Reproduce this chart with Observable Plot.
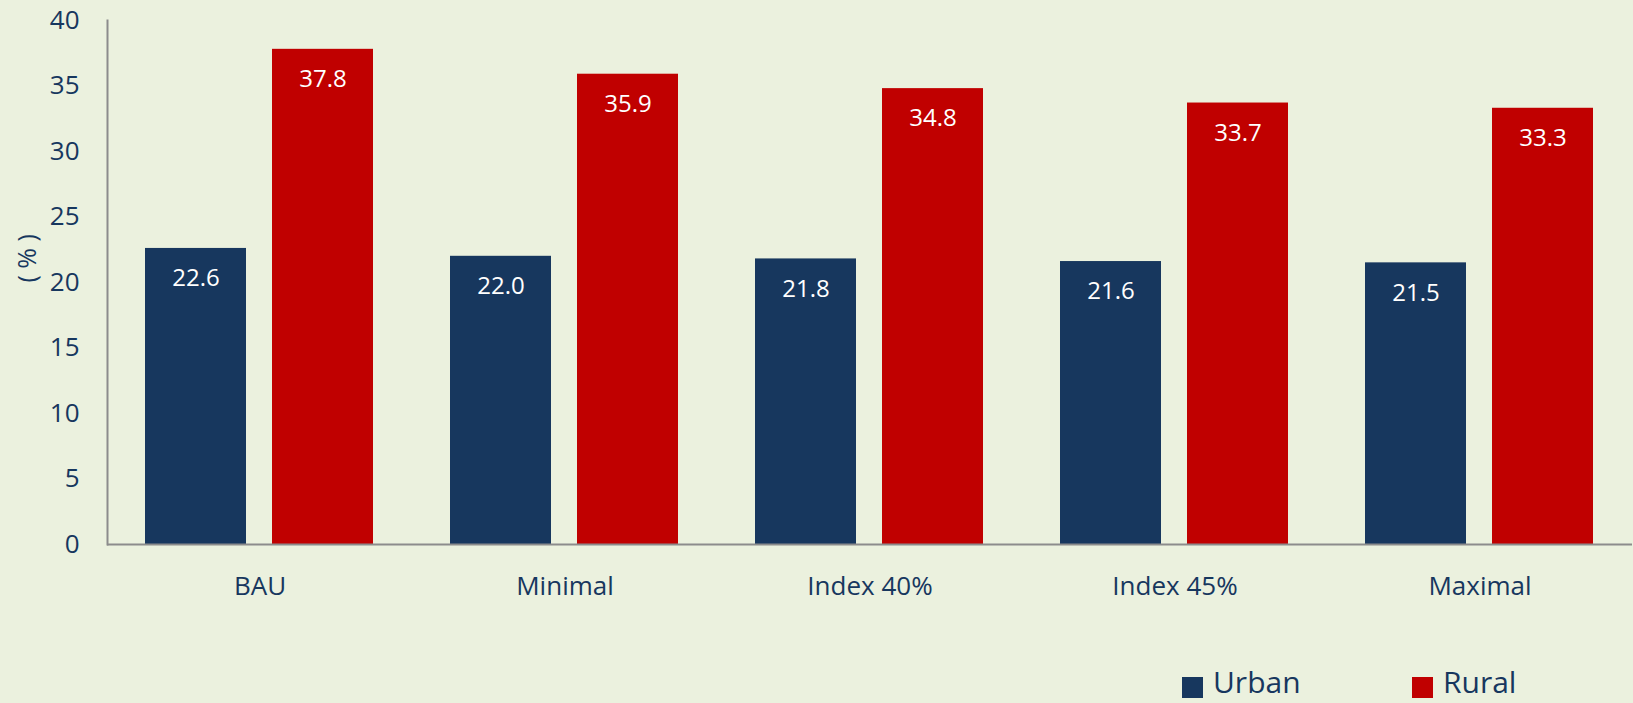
<!DOCTYPE html>
<html>
<head>
<meta charset="utf-8">
<script src="https://cdn.jsdelivr.net/npm/d3@7"></script>
<script src="https://cdn.jsdelivr.net/npm/@observablehq/plot@0.6"></script>
<style>
  html, body { margin: 0; padding: 0; background: #EBF1DE; font-family: "Open Sans", sans-serif; overflow: hidden; }
  #chart svg { display: block; }
  #legend { position: relative; height: 38px; width: 1633px; }
  .sw { position: absolute; top: 12px; width: 21px; height: 21px; }
  .lb { position: absolute; top: 2px; height: 30px; line-height: 30px; font-size: 30px; color: #17375E; white-space: nowrap; }
</style>
</head>
<body>
<div id="chart"></div>
<div id="legend"></div>
<script>
const scenarios = ["BAU", "Minimal", "Index 40%", "Index 45%", "Maximal"];
const series = ["Urban", "Rural"];
const urban = [22.6, 22.0, 21.8, 21.6, 21.5];
const rural = [37.8, 35.9, 34.8, 33.7, 33.3];
const colors = ["#17375E", "#C00000"];
const yTicks = [0, 5, 10, 15, 20, 25, 30, 35, 40];
const yLabel = "( % )";

const data = scenarios.flatMap((s, i) => [
  {scenario: s, area: series[0], value: urban[i]},
  {scenario: s, area: series[1], value: rural[i]}
]);

const chart = Plot.plot({
  width: 1633,
  height: 665,
  marginLeft: 105,
  marginRight: 0,
  marginTop: 20,
  marginBottom: 121,
  style: {background: "transparent", fontFamily: "Open Sans", color: "#17375E"},
  fx: {domain: scenarios, padding: 0, label: null},
  x: {domain: series, paddingInner: 0.203, paddingOuter: 0.295, axis: null},
  y: {domain: [0, 40], axis: null},
  color: {domain: series, range: colors},
  marks: [
    Plot.axisFx({anchor: "bottom", tickSize: 0, tickPadding: 32, fontSize: 26, label: null}),
    Plot.axisY({ticks: yTicks, tickSize: 0, tickPadding: 28, fontSize: 26, label: null}),
    Plot.barY(data, {fx: "scenario", x: "area", y: "value", fill: "area"}),
    Plot.text(data, {fx: "scenario", x: "area", y: "value", text: d => d.value.toFixed(1),
      fill: "white", dy: 30, lineAnchor: "middle", fontSize: 24}),
    Plot.ruleY([0], {stroke: "#8c8c8c", strokeWidth: 2}),
    Plot.frame({anchor: "left", stroke: "#8c8c8c", strokeWidth: 2, facetAnchor: "left"}),
    Plot.text([yLabel], {frameAnchor: "left", dx: -80, rotate: -90, fontSize: 25, fill: "#17375E", facetAnchor: "left"})
  ]
});
document.getElementById("chart").appendChild(chart);

const legend = document.getElementById("legend");
const swX = [1182, 1412];
series.forEach((s, i) => {
  const sw = document.createElement("div");
  sw.className = "sw";
  sw.style.left = swX[i] + "px";
  sw.style.background = colors[i];
  legend.appendChild(sw);
  const lb = document.createElement("div");
  lb.className = "lb";
  lb.style.left = (swX[i] + 31) + "px";
  lb.textContent = s;
  legend.appendChild(lb);
});
</script>
</body>
</html>
